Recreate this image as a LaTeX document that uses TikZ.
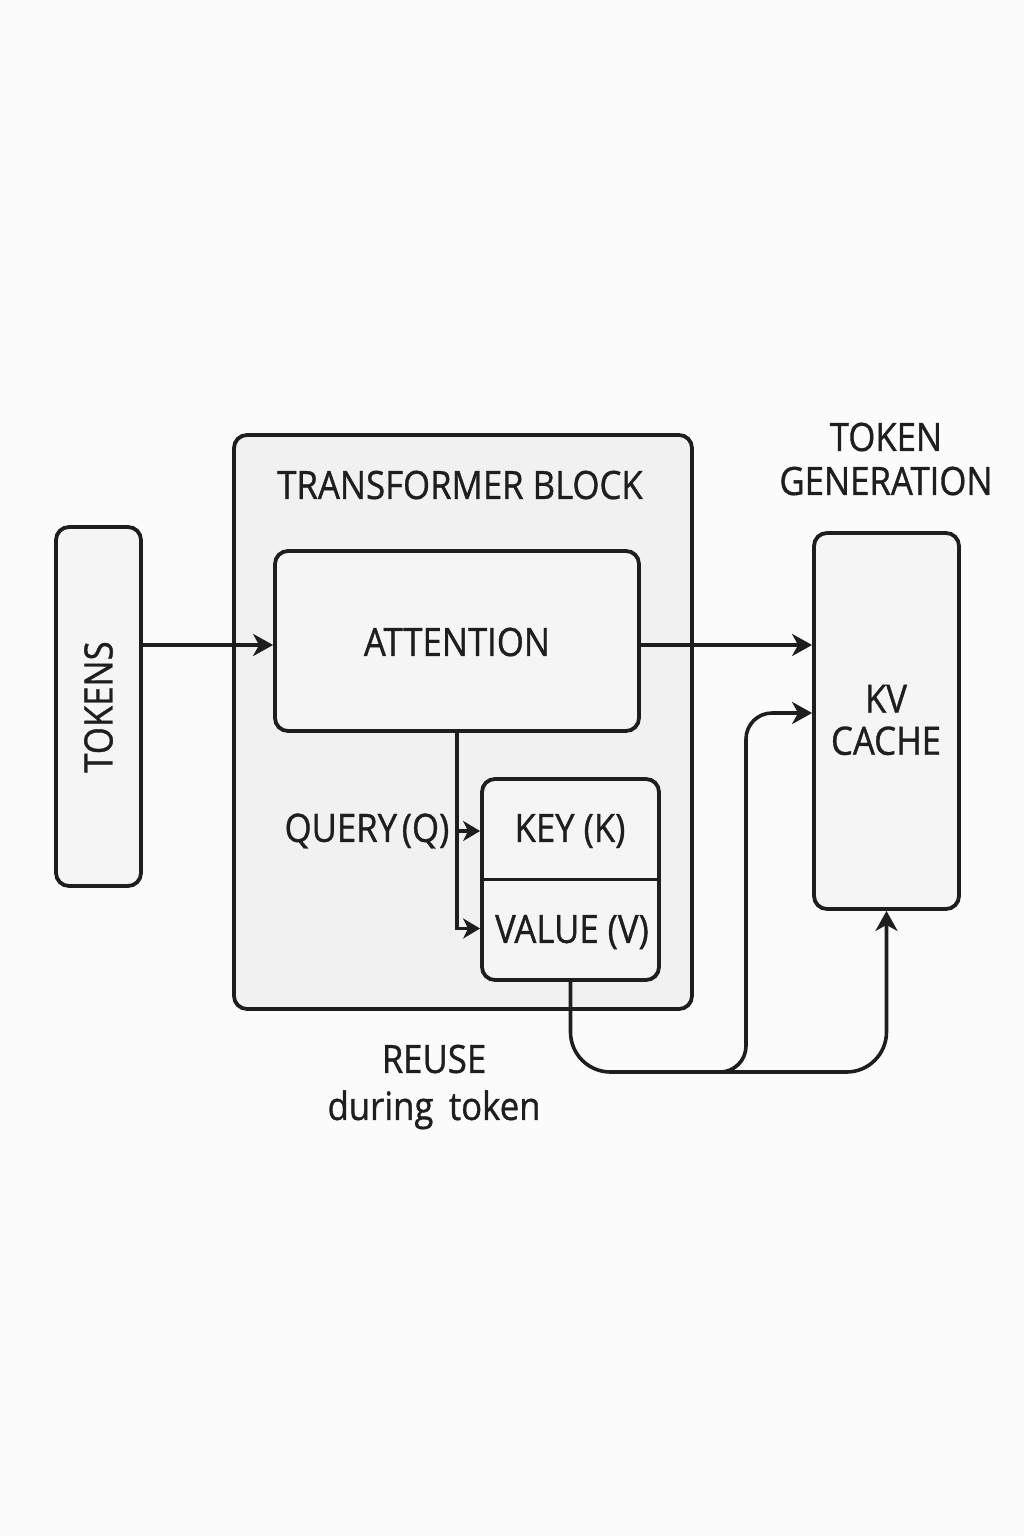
\documentclass[tikz,border=0pt]{standalone}
\usepackage{fontspec}
\setmainfont[FakeStretch=0.89,FakeBold=0.9]{Open Sans}
\usetikzlibrary{arrows.meta,calc}
\definecolor{bgc}{RGB}{251,251,251}
\definecolor{blockc}{RGB}{241,241,241}
\definecolor{boxc}{RGB}{245,245,245}
\definecolor{ink}{RGB}{30,30,30}
\tikzset{
  box/.style={draw=ink, line width=1.9pt, rounded corners=6.5pt, fill=boxc, inner sep=0pt},
  lbl/.style={inner sep=0pt, text=ink, font=\fontsize{19.5}{22}\selectfont, align=center},
  conn/.style={draw=ink, line width=1.8pt},
  arr/.style={conn, -{Stealth[length=10pt,width=11pt,inset=3pt]}},
  sarr/.style={conn, -{Stealth[length=8.5pt,width=10pt,inset=2.5pt]}}
}
\begin{document}
\begin{tikzpicture}[x=0.5pt,y=-0.5pt]
\fill[bgc] (0,0) rectangle (1024,1536);
\useasboundingbox (0,0) rectangle (1024,1536);

% transformer block
\node[box, fill=blockc, minimum width=229pt, minimum height=287pt] (tb) at (463,722) {};
\node[lbl] (tbl) at (460,485) {TRANSFORMER BLOCK};

% tokens
\node[box, minimum width=42.5pt, minimum height=179.5pt] (tok) at (98.5,706.5) {};
\node[lbl, rotate=90] (tokl) at (98.5,707) {TOKENS};

% attention
\node[box, minimum width=182pt, minimum height=90pt] (attn) at (457,641) {};
\node[lbl] (attnl) at (457,642) {ATTENTION};

% key / value box
\node[box, minimum width=88.5pt, minimum height=100.5pt] (kv) at (570.5,879.5) {};
\draw[conn, line width=1.9pt] (kv.west) -- (kv.east);
\node[lbl] (keyl) at (570,831) {KEY (K)};
\node[lbl] (vall) at (572,932) {VALUE (V)};
\node[lbl] (qryl) at (367,831) {QUERY\kern0.12em(Q)};

% kv cache
\node[box, minimum width=72.5pt, minimum height=188pt] (kvc) at (886.5,721) {};
\node[lbl, text width=80pt] (kvcl) at (886,720) {KV\\[-1pt]CACHE};
\node[lbl, text width=120pt] (tgl) at (886,459) {TOKEN\\[0pt]GENERATION};
\node[lbl] (reul) at (434,1087) {REUSE\\[1.5pt]during\, token};

% connectors
\draw[arr] (tok.east |- 0,645) -- (attn.west |- 0,645);
\draw[arr] (attn.east |- 0,645) -- (kvc.west |- 0,645);
\coordinate (qtop) at (attn.south);
\draw[sarr] (qtop) |- ($(kv.west)+(0,49)$);
\draw[sarr] (qtop |- keyl) -- (kv.west |- keyl);

\draw[arr, rounded corners=20pt] (kv.south) -- (kv.south |- 0,1072) -- (kvc.south |- 0,1072) -- (kvc.south);
\coordinate (br) at (700,1072);
\draw[arr, rounded corners=13pt] (br) -- (746,1072) -- (746,713) -- (kvc.west |- 0,713);
\end{tikzpicture}
\end{document}
